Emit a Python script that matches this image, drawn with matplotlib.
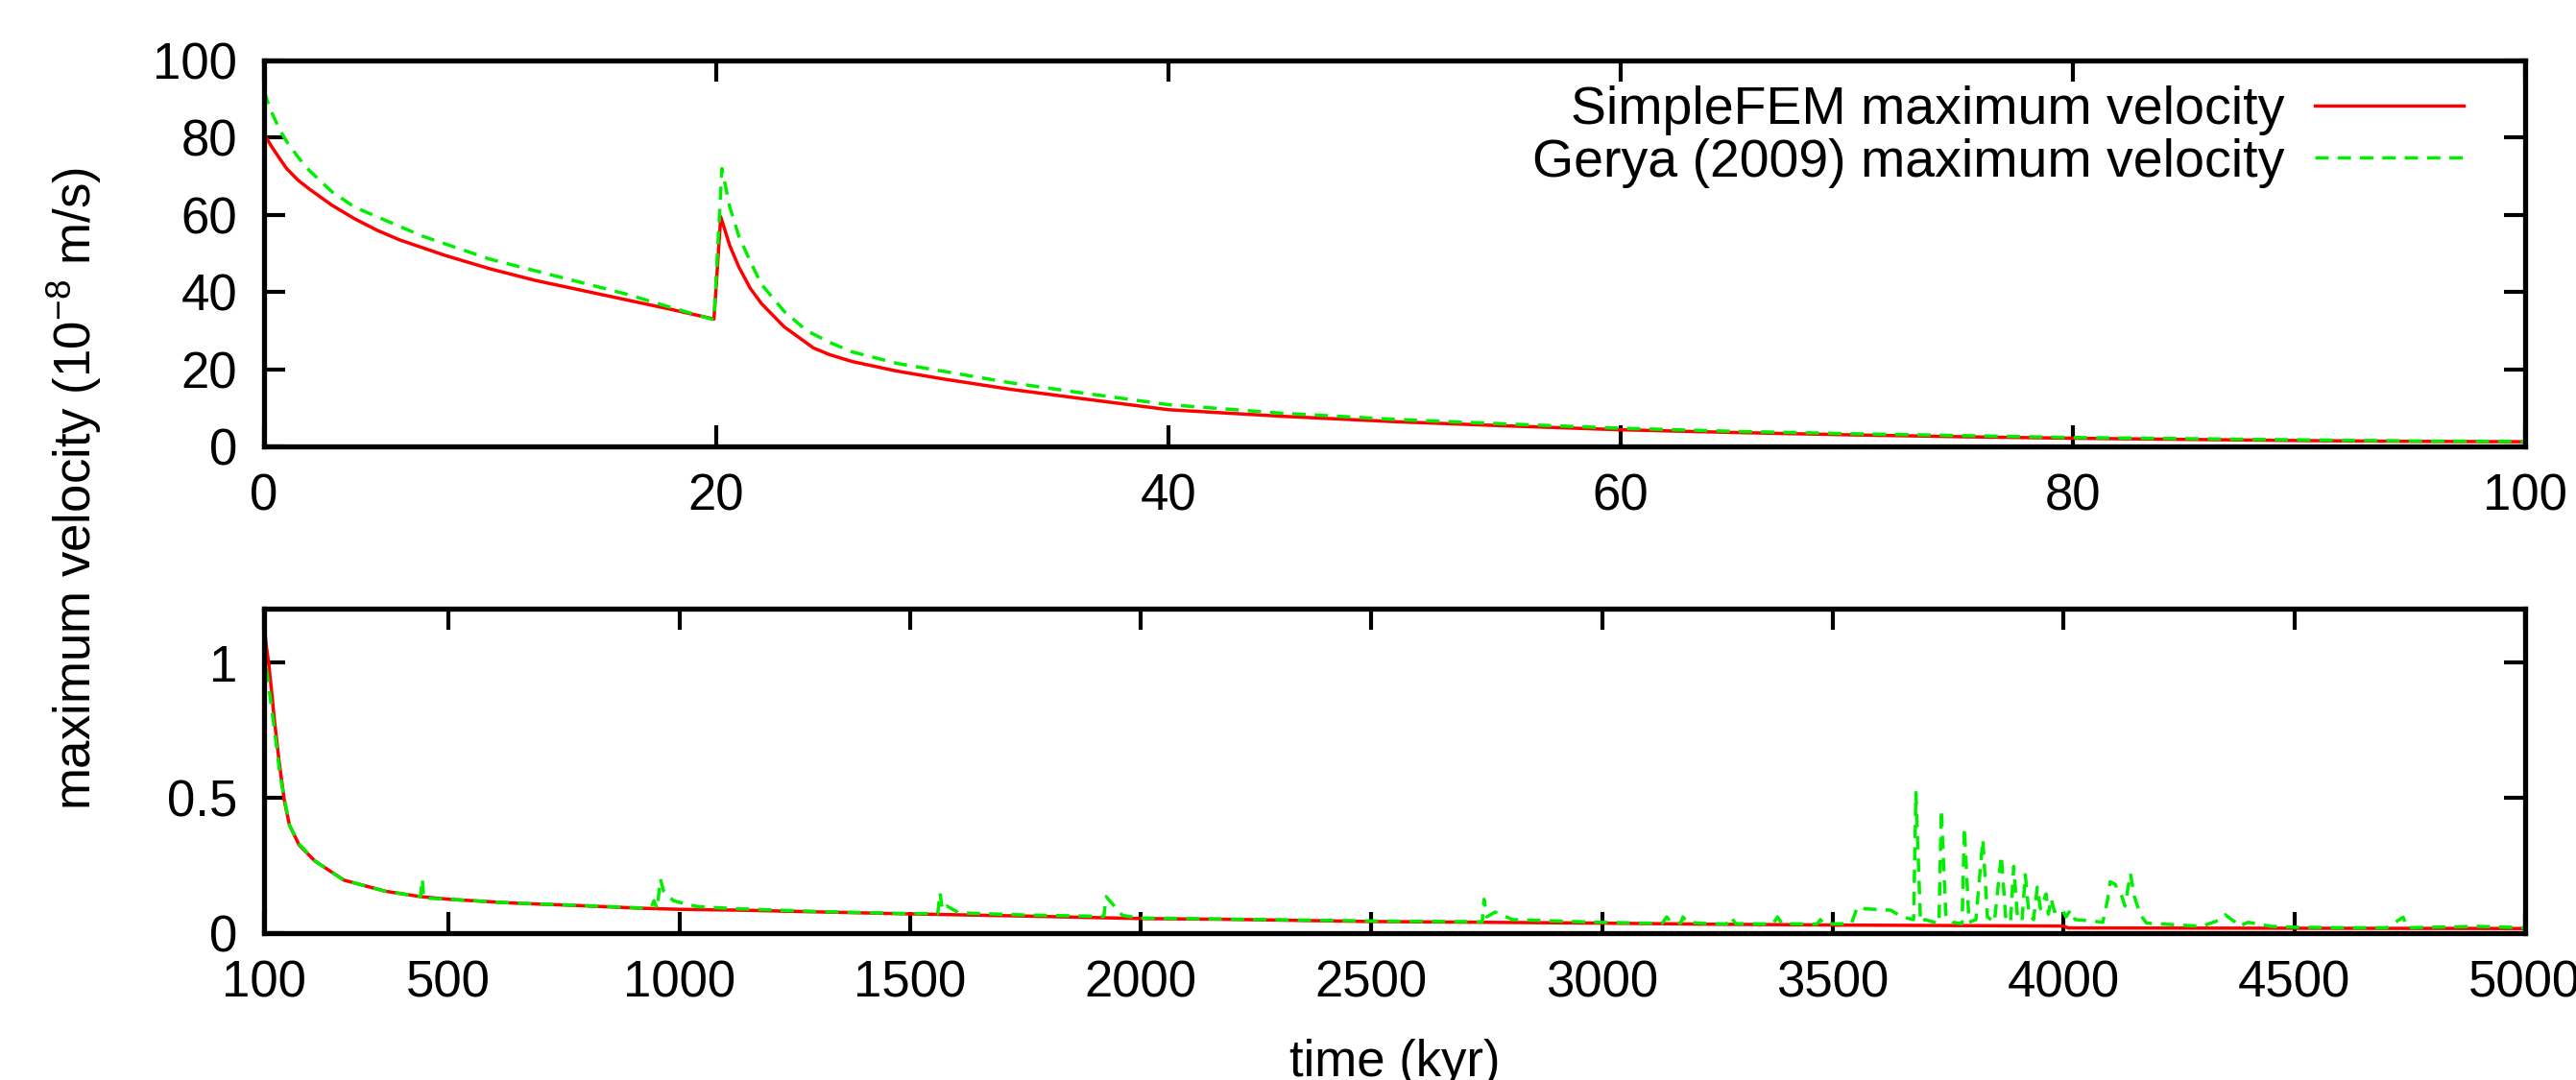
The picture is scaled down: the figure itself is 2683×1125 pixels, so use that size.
import matplotlib
matplotlib.use("Agg")
import matplotlib.pyplot as plt

plt.rcParams['font.family'] = ['Liberation Sans', 'DejaVu Sans']
plt.rcParams['mathtext.default'] = 'regular'

# first 100 kyr (top panel)
t_top_fem = [0, 0.3, 0.7, 1, 1.5, 2, 3, 4, 5, 6, 7, 8, 10, 12, 14, 16, 18, 19.9,
             20.2, 20.6, 21, 21.5, 22, 23, 24.3, 25, 26, 28, 30, 33, 36, 40, 45,
             50, 55, 60, 65, 70, 75, 80, 85, 90, 95, 100]
v_top_fem = [81, 78, 74.5, 72, 69, 66.7, 62.5, 59, 56, 53.5, 51.5, 49.5, 46, 43,
             40.5, 38, 35.5, 33, 59.5, 52, 46.5, 41, 37, 31, 25.5, 23.8, 22, 19.5,
             17.5, 14.8, 12.5, 9.5, 7.8, 6.4, 5.3, 4.3, 3.6, 3.0, 2.5, 2.1, 1.8,
             1.5, 1.3, 1.2]
t_top_gerya = [0, 0.3, 0.7, 1, 1.5, 2, 3, 4, 5, 6, 7, 8, 10, 12, 14, 16, 18, 19.9,
               20.25, 20.6, 21, 21.5, 22, 23, 24, 25, 26, 28, 30, 33, 36, 40, 45,
               50, 55, 60, 65, 70, 75, 80, 85, 90, 95, 100]
v_top_gerya = [92, 87, 82, 79, 75, 71.5, 66, 62, 59.5, 57, 54.5, 52.5, 48.5, 45.5,
               42.5, 39.5, 36, 32.8, 72, 62, 54.5, 48, 42, 35, 30, 27, 24.5, 21.5,
               19.5, 16.5, 14, 10.8, 8.6, 7, 5.8, 4.7, 3.9, 3.3, 2.8, 2.3, 2.0,
               1.7, 1.4, 1.3]

# 100 - 5000 kyr (bottom panel)
t_bot_fem = [100, 105, 110, 116, 123, 133, 144, 155, 176, 210, 273, 363, 439, 502,
             641, 780, 918, 1002, 1127, 1474, 1751, 1994, 2189, 2494, 2994, 3230,
             3500, 4000, 4010, 5000]
v_bot_fem = [1.15, 1.06, 1.0, 0.9, 0.78, 0.63, 0.49, 0.40, 0.326, 0.267, 0.196,
             0.155, 0.135, 0.125, 0.111, 0.102, 0.092, 0.088, 0.085, 0.072, 0.063,
             0.054, 0.051, 0.043, 0.037, 0.033, 0.030, 0.026, 0.019, 0.017]
t_bot_gerya = [100, 105, 115, 125, 135, 145, 155, 176, 210, 273, 363, 439, 443, 446,
               502, 641, 780, 918, 940, 945, 952, 959, 966, 987, 1016, 1040, 1127,
               1300, 1474, 1560, 1565, 1570, 1580, 1606, 1751, 1920, 1925, 1960,
               1994, 2189, 2494, 2740, 2744, 2750, 2768, 2806, 2994, 3130, 3140,
               3150, 3170, 3175, 3185, 3230, 3270, 3278, 3290, 3370, 3380, 3390,
               3465, 3473, 3480, 3540, 3553, 3570, 3625, 3650, 3675, 3680, 3690,
               3700, 3730, 3735, 3745, 3760, 3780, 3785, 3795, 3810, 3825, 3835,
               3850, 3865, 3875, 3885, 3892, 3900, 3910, 3917, 3925, 3935, 3943,
               3950, 3962, 3967, 3973, 3980, 3996, 4005, 4015, 4025, 4060, 4085,
               4095, 4101, 4112, 4120, 4126, 4133, 4145, 4153, 4167, 4180, 4250,
               4300, 4340, 4350, 4370, 4380, 4400, 4450, 4500, 4600, 4700, 4736,
               4745, 4800, 4900, 5000]
v_bot_gerya = [1.06, 0.98, 0.85, 0.72, 0.58, 0.49, 0.40, 0.33, 0.267, 0.196, 0.155,
               0.135, 0.20, 0.13, 0.125, 0.111, 0.103, 0.093, 0.10, 0.12, 0.09,
               0.20, 0.155, 0.12, 0.107, 0.098, 0.09, 0.08, 0.073, 0.072, 0.149,
               0.085, 0.10, 0.075, 0.067, 0.062, 0.135, 0.066, 0.056, 0.052, 0.045,
               0.042, 0.125, 0.06, 0.078, 0.05, 0.04, 0.036, 0.06, 0.04, 0.037,
               0.06, 0.04, 0.035, 0.034, 0.06, 0.035, 0.034, 0.06, 0.035, 0.033,
               0.05, 0.034, 0.035, 0.096, 0.09, 0.085, 0.06, 0.05, 0.52, 0.04, 0.05,
               0.035, 0.456, 0.06, 0.04, 0.035, 0.39, 0.04, 0.05, 0.346, 0.06, 0.04,
               0.287, 0.05, 0.04, 0.247, 0.06, 0.045, 0.216, 0.07, 0.05, 0.17, 0.09,
               0.145, 0.07, 0.128, 0.08, 0.09, 0.06, 0.085, 0.05, 0.045, 0.04, 0.12,
               0.19, 0.18, 0.15, 0.137, 0.10, 0.22, 0.137, 0.066, 0.037, 0.03, 0.025,
               0.05, 0.068, 0.043, 0.025, 0.04, 0.025, 0.022, 0.02, 0.02, 0.059,
               0.02, 0.022, 0.025, 0.02]

top_xticks = [0, 20, 40, 60, 80, 100]
top_yticks = [0, 20, 40, 60, 80, 100]
bot_xticks = [100, 500, 1000, 1500, 2000, 2500, 3000, 3500, 4000, 4500, 5000]
bot_yticks = [0, 0.5, 1]
bot_yticklabels = ['0', '0.5', '1']

fs = 38
red = '#ff0000'
green = '#00ee00'

fig = plt.figure(figsize=(26.83, 11.25), dpi=100)
ax1 = fig.add_axes([0.1025, 0.5867, 0.8777, 0.3573])
ax2 = fig.add_axes([0.1025, 0.136, 0.8777, 0.3004])

ax1.plot(t_top_fem, v_top_fem, color=red, lw=2.5, label='SimpleFEM maximum velocity')
ax1.plot(t_top_gerya, v_top_gerya, color=green, lw=2.5, ls=(0, (4, 2.7)),
         label='Gerya (2009) maximum velocity')
ax2.plot(t_bot_fem, v_bot_fem, color=red, lw=2.5)
ax2.plot(t_bot_gerya, v_bot_gerya, color=green, lw=2.5, ls=(0, (4, 2.7)))

ax1.set_xlim(0, 100)
ax1.set_ylim(0, 100)
ax1.set_xticks(top_xticks)
ax1.set_yticks(top_yticks)
ax2.set_xlim(100, 5000)
ax2.set_ylim(0, 1.2)
ax2.set_xticks(bot_xticks)
ax2.set_yticks(bot_yticks)
ax2.set_yticklabels(bot_yticklabels)

for ax in (ax1, ax2):
    ax.tick_params(direction='in', top=True, right=True, length=16, width=3,
                   labelsize=fs, pad=20)
    for sp in ax.spines.values():
        sp.set_linewidth(3.8)

ax1.legend(loc='upper right', bbox_to_anchor=(0.973, 0.935), frameon=False,
           markerfirst=False, fontsize=40, handlelength=2.8, handletextpad=0.56,
           labelspacing=0.05, borderpad=0, borderaxespad=0)

fig.text(0.0287, 0.5476, 'maximum velocity (10$^{-8}$ m/s)', rotation=90,
         ha='center', va='center', fontsize=fs)
fig.text(0.5415, 0.004, 'time (kyr)', ha='center', va='baseline', fontsize=fs)

fig.savefig('out.png', dpi=100)
